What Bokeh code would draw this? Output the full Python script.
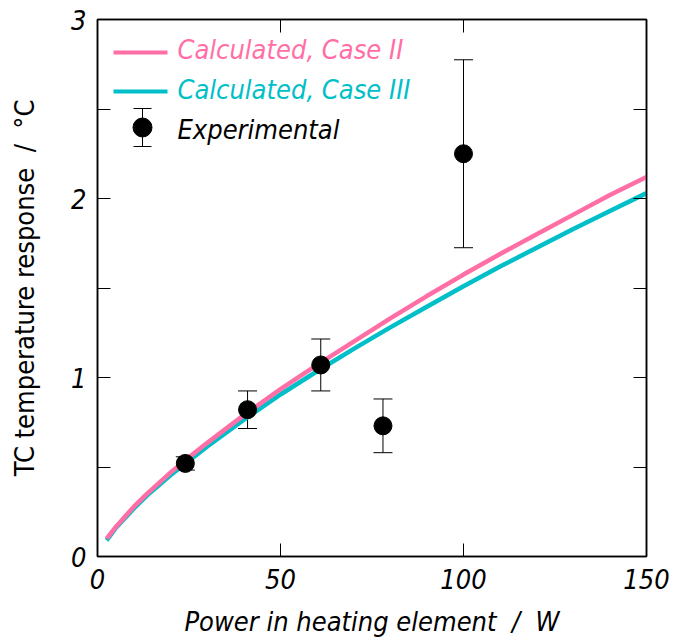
from bokeh.plotting import figure
from bokeh.models import (ColumnDataSource, Whisker, TeeHead, LinearAxis, FixedTicker,
                          Range1d, Label, Arrow, BoxAnnotation)
from bokeh.embed import file_html
from bokeh.resources import INLINE

# ---------------- data ----------------
calc_power = [2.5, 5, 10, 13.5, 20, 25, 30, 40, 50, 60, 70, 80, 90, 100, 110, 120, 130, 140, 150]
case2_temp = [0.10, 0.165, 0.28, 0.35, 0.47, 0.555, 0.635, 0.79, 0.935, 1.07, 1.20, 1.33, 1.455, 1.575, 1.69, 1.80, 1.91, 2.02, 2.12]
case3_temp = [0.09, 0.16, 0.27, 0.34, 0.455, 0.535, 0.615, 0.765, 0.905, 1.035, 1.16, 1.28, 1.395, 1.51, 1.62, 1.725, 1.83, 1.93, 2.03]

exp_power = [24, 41, 61, 78, 100]
exp_temp = [0.52, 0.82, 1.07, 0.73, 2.25]
exp_err = [0.037, 0.105, 0.145, 0.15, 0.525]

x_ticks = [0, 50, 100, 150]
y_ticks = [0, 0.5, 1, 1.5, 2, 2.5, 3]
y_labels = {0: "0", 0.5: "", 1: "1", 1.5: "", 2: "2", 2.5: "", 3: "3"}

legend_labels = ["Calculated, Case II", "Calculated, Case III", "Experimental"]

PINK = "#ff6fa6"
CYAN = "#00bfc9"
FONT = "DejaVu Sans Condensed, Roboto"

# ---------------- figure ----------------
p = figure(width=673, height=639, output_backend="svg", toolbar_location=None,
           x_range=Range1d(0, 150), y_range=Range1d(0, 3),
           x_axis_label="Power in heating element \u00a0/\u00a0 W",
           y_axis_label="TC temperature response \u00a0/\u00a0 °C",
           min_border_left=97, min_border_right=27, min_border_top=19, min_border_bottom=82)
p.grid.visible = False
p.outline_line_color = "black"
p.outline_line_width = 1.5
p.background_fill_color = "white"
p.border_fill_color = "white"

xa = p.xaxis[0]
xa.ticker = FixedTicker(ticks=x_ticks)
ya = p.yaxis[0]
ya.ticker = FixedTicker(ticks=y_ticks)
ya.major_label_overrides = y_labels

for ax in (xa, ya):
    ax.major_tick_in = 13
    ax.major_tick_out = 0
    ax.minor_tick_in = 0
    ax.minor_tick_out = 0
    ax.axis_line_color = "black"
    ax.axis_line_width = 1.5
    ax.major_tick_line_color = "black"
    ax.major_tick_line_width = 1
    ax.major_label_text_font = FONT
    ax.major_label_text_font_style = "italic"
    ax.major_label_text_font_size = "27px"
    ax.major_label_text_color = "black"
    ax.axis_label_text_font = FONT
    ax.axis_label_text_font_size = "27px"
    ax.axis_label_text_color = "black"

xa.major_label_standoff = 12
xa.axis_label_standoff = 14
xa.axis_label_text_font_style = "italic"
ya.major_label_standoff = 11
ya.axis_label_standoff = 28
ya.axis_label_text_font_style = "normal"

# top / right axes (ticks only, labels not painted)
top = LinearAxis(ticker=FixedTicker(ticks=x_ticks))
right = LinearAxis(ticker=FixedTicker(ticks=y_ticks))
for ax in (top, right):
    ax.major_tick_in = 13
    ax.major_tick_out = 0
    ax.minor_tick_in = 0
    ax.minor_tick_out = 0
    ax.major_label_text_color = None
    ax.major_label_text_font_size = "8px"
    ax.major_label_standoff = 0
    ax.axis_line_color = "black"
    ax.axis_line_width = 1.5
    ax.major_tick_line_color = "black"
p.add_layout(top, "above")
p.add_layout(right, "right")

# ---------------- curves ----------------
p.line(calc_power, case3_temp, line_color=CYAN, line_width=4.5)
p.line(calc_power, case2_temp, line_color=PINK, line_width=4.5)

# ---------------- experimental ----------------
src = ColumnDataSource(dict(
    x=exp_power, y=exp_temp,
    upper=[t + e for t, e in zip(exp_temp, exp_err)],
    lower=[t - e for t, e in zip(exp_temp, exp_err)],
))
p.add_layout(Whisker(base="x", upper="upper", lower="lower", source=src,
                     line_color="black", line_width=1,
                     upper_head=TeeHead(size=19, line_color="black", line_width=1),
                     lower_head=TeeHead(size=19, line_color="black", line_width=1)))
p.scatter("x", "y", source=src, size=18, marker="circle",
          fill_color="black", line_color="black")

# ---------------- legend (screen units, relative to frame) ----------------
p.add_layout(Arrow(x_start=16, y_start=504, x_end=70, y_end=504,
                   start_units="screen", end_units="screen", start=None, end=None,
                   line_color=PINK, line_width=4))
p.add_layout(Arrow(x_start=16, y_start=465, x_end=70, y_end=465,
                   start_units="screen", end_units="screen", start=None, end=None,
                   line_color=CYAN, line_width=4))
p.add_layout(Arrow(x_start=45, y_start=410, x_end=45, y_end=448,
                   start_units="screen", end_units="screen",
                   start=TeeHead(size=18, line_color="black", line_width=1),
                   end=TeeHead(size=18, line_color="black", line_width=1),
                   line_color="black", line_width=1))
p.add_layout(BoxAnnotation(left=35.5, right=54.5, bottom=419.5, top=438.5,
                           left_units="screen", right_units="screen",
                           bottom_units="screen", top_units="screen",
                           fill_color="black", fill_alpha=1, line_color="black",
                           line_alpha=1, border_radius=10))
for txt, yy, col in zip(legend_labels, [507, 467, 427], [PINK, CYAN, "black"]):
    p.add_layout(Label(x=80, y=yy, x_units="screen", y_units="screen", text=txt,
                       text_font=FONT, text_font_style="italic", text_font_size="27px",
                       text_color=col, text_baseline="alphabetic"))

open("out.html", "w").write(file_html(p, INLINE))
